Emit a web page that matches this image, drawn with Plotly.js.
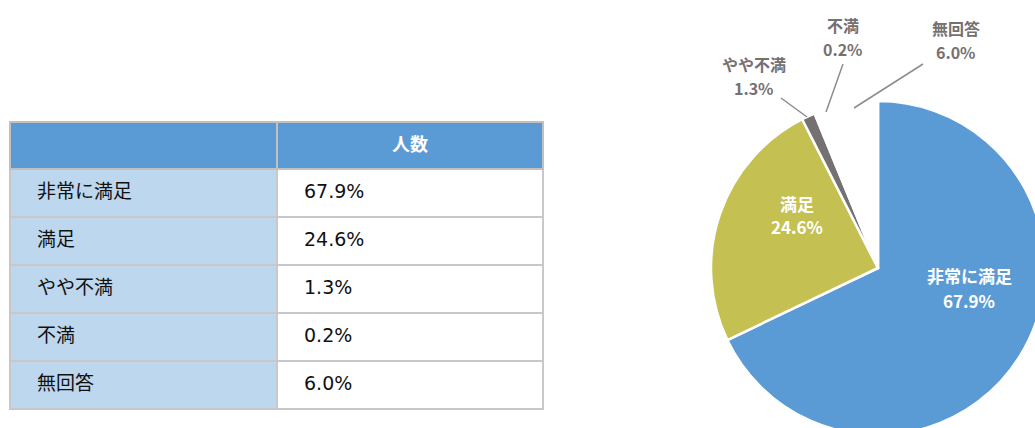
<!DOCTYPE html>
<html>
<head>
<meta charset="utf-8">
<script src="https://cdn.plot.ly/plotly-3.0.1.min.js"></script>
<style>
html,body{margin:0;padding:0;overflow:hidden;background:#fff;width:1035px;height:428px;}
#chart{width:1050px;height:440px;}
#chart .cell-text-holder text{transform:translateY(7px);}
</style>
</head>
<body>
<div id="chart"></div>
<script>
// ---- data ----
var categories = ['非常に満足', '満足', 'やや不満', '不満', '無回答'];
var shares = [67.9, 24.6, 1.3, 0.2, 6.0];
var headerLabels = ['', '人数'];

// ---- layout helpers ----
var W = 1050, H = 440;
function px(x) { return x / W; }
function py(y) { return 1 - y / H; }

var sliceColors = ['#5B9BD5', '#C4C152', '#767171', '#767171', 'rgba(255,255,255,0)'];
var labelColors = ['#FFFFFF', '#FFFFFF', '#767171', '#767171', '#767171'];
var labelFont = [17, 17, 16, 16, 16];
// label centres (name line, value line) in page pixels
var labelPos = [[969, 275, 300], [797, 203, 227], [754, 64, 88], [843, 25, 49], [956, 28, 52]];
// leader lines in page pixels (null = none)
var leaderPos = [null, null, [781, 98, 807, 117], [843, 64, 826, 112], [923, 64, 854, 108]];

function fmt(v) { return v.toFixed(1) + '%'; }
var pad = '\u2002\u2002';
var cellFamily = 'DejaVu Sans, Noto Sans CJK JP';

var tableTrace = {
  type: 'table',
  domain: { x: [px(10), px(543)], y: [py(425), py(122)] },
  columnwidth: [267, 266],
  header: {
    values: headerLabels.map(function (h) { return [h]; }),
    align: 'center',
    height: 47,
    fill: { color: '#5B9BD5' },
    line: { color: '#C0C0C0', width: 2 },
    font: { family: 'Noto Sans CJK JP', size: 18, color: '#FFFFFF', weight: 'bold' }
  },
  cells: {
    values: [categories.map(function (c) { return pad + c; }), shares.map(function (v) { return pad + fmt(v); })],
    align: 'left',
    height: 48,
    fill: { color: [categories.map(function () { return '#BDD7EE'; }), categories.map(function () { return '#FFFFFF'; })] },
    line: { color: '#C8C8C8', width: 2 },
    font: { family: cellFamily, size: 19, color: '#111111' }
  }
};

var pieTrace = {
  type: 'pie',
  labels: categories,
  values: shares,
  sort: false,
  direction: 'clockwise',
  rotation: 0,
  domain: { x: [px(711), px(1045)], y: [py(435), py(101)] },
  marker: { colors: sliceColors, line: { color: '#FFFFFF', width: 2.5 } },
  textinfo: 'none',
  hoverinfo: 'label+percent',
  showlegend: false
};

var annotations = [];
var shapes = [];
categories.forEach(function (c, i) {
  var p = labelPos[i];
  var f = { family: 'Noto Sans CJK JP', size: labelFont[i], color: labelColors[i], weight: 'bold' };
  annotations.push({ xref: 'paper', yref: 'paper', x: px(p[0]), y: py(p[1]), text: c, showarrow: false, xanchor: 'center', yanchor: 'middle', font: f });
  annotations.push({ xref: 'paper', yref: 'paper', x: px(p[0]), y: py(p[2]), text: fmt(shares[i]), showarrow: false, xanchor: 'center', yanchor: 'middle', font: f });
  var l = leaderPos[i];
  if (l) {
    shapes.push({ type: 'line', xref: 'paper', yref: 'paper', x0: px(l[0]), y0: py(l[1]), x1: px(l[2]), y1: py(l[3]), line: { color: '#8C8C8C', width: 1.5 } });
  }
});

var layout = {
  width: W, height: H,
  margin: { l: 0, r: 0, t: 0, b: 0 },
  paper_bgcolor: '#FFFFFF',
  plot_bgcolor: '#FFFFFF',
  showlegend: false,
  annotations: annotations,
  shapes: shapes
};

Plotly.newPlot('chart', [tableTrace, pieTrace], layout, { displayModeBar: false, staticPlot: true });
</script>
</body>
</html>
